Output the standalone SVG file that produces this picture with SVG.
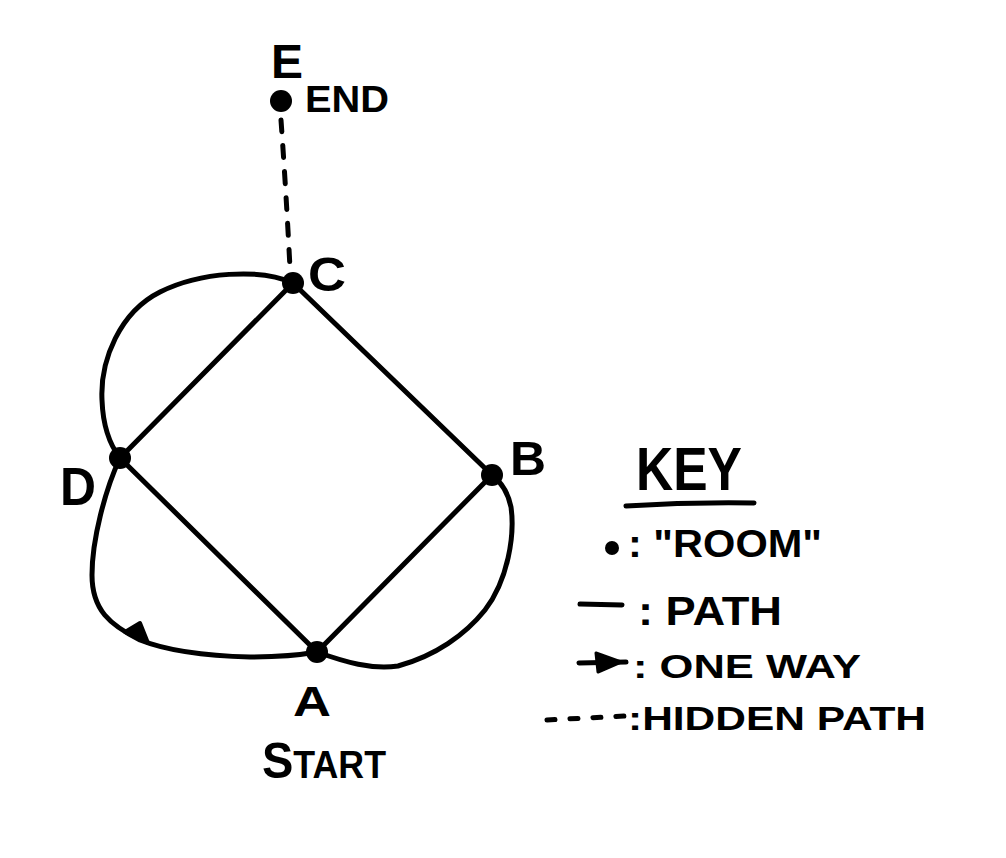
<svg xmlns="http://www.w3.org/2000/svg" width="1006" height="858" viewBox="0 0 1006 858">
<style>
.ln{fill:none;stroke:#000;stroke-width:5;stroke-linecap:round;stroke-linejoin:round}
.dash{fill:none;stroke:#000;stroke-width:5;stroke-linecap:round;stroke-dasharray:12 14}
.dot{fill:#000}
.t{font-family:"Liberation Sans",Arial,sans-serif;font-weight:bold;fill:#000}
</style>
<rect width="1006" height="858" fill="#fff"/>
<g id="connectors">
<path class="dash" d="M281,120 Q286,190 290,268"/>
<path class="ln" d="M293,283 L120,458"/>
<path class="ln" d="M293,283 L492,475"/>
<path class="ln" d="M120,458 L317,652"/>
<path class="ln" d="M492,475 L317,652"/>
<path class="ln" d="M293,283 C260,268 200,272 160,292 C120,312 100,360 102,400 C103,428 110,445 120,458"/>
<path class="ln" d="M120,458 C105,490 92,540 92,575 C92,610 110,625 140,640 C170,652 210,656 250,657 C280,657 300,655 317,652"/>
<path class="ln" d="M317,652 C345,662 372,670 398,666 C435,656 465,635 485,610 C508,580 515,535 511,507 C508,492 501,482 492,475"/>
<polygon points="125,632 140,623 148,643" fill="#000" stroke="#000" stroke-width="4" stroke-linejoin="round"/>
</g>
<g id="node-E">
<circle class="dot" cx="281" cy="101" r="11"/>
<text class="t" x="271" y="78" font-size="48" textLength="32" lengthAdjust="spacingAndGlyphs">E</text>
<text class="t" x="305" y="112" font-size="36" textLength="84" lengthAdjust="spacingAndGlyphs">END</text>
</g>
<g id="node-C">
<circle class="dot" cx="293" cy="283" r="11"/>
<text class="t" x="308" y="291" font-size="48" textLength="38" lengthAdjust="spacingAndGlyphs">C</text>
</g>
<g id="node-D">
<circle class="dot" cx="120" cy="458" r="11"/>
<text class="t" x="60" y="505" font-size="54" textLength="36" lengthAdjust="spacingAndGlyphs">D</text>
</g>
<g id="node-B">
<circle class="dot" cx="492" cy="475" r="11"/>
<text class="t" x="510" y="475" font-size="48" textLength="36" lengthAdjust="spacingAndGlyphs">B</text>
</g>
<g id="node-A">
<circle class="dot" cx="317" cy="652" r="11"/>
<text class="t" x="293" y="716" font-size="42" textLength="38" lengthAdjust="spacingAndGlyphs">A</text>
<text class="t" x="262" y="778" font-size="38" textLength="124" lengthAdjust="spacingAndGlyphs"><tspan font-size="50">S</tspan>TART</text>
</g>
<g id="key">
<text class="t" x="636" y="490" font-size="62" textLength="106" lengthAdjust="spacingAndGlyphs">KEY</text>
<path class="ln" d="M626,506 Q690,502 754,503"/>
<circle class="dot" cx="612" cy="548" r="7"/>
<text class="t" x="628" y="557" font-size="38" textLength="194" lengthAdjust="spacingAndGlyphs">: "ROOM"</text>
<path class="ln" d="M580,604 L622,605"/>
<text class="t" x="638" y="625" font-size="40" textLength="144" lengthAdjust="spacingAndGlyphs">: PATH</text>
<path class="ln" d="M579,663 L626,662"/>
<polygon points="596,653 621,662 598,672" fill="#000" stroke="#000" stroke-width="3" stroke-linejoin="round"/>
<text class="t" x="633" y="678" font-size="34" textLength="228" lengthAdjust="spacingAndGlyphs">: ONE WAY</text>
<path class="ln" d="M547,720 L626,716" stroke-dasharray="8 15"/>
<text class="t" x="628" y="730" font-size="34" textLength="298" lengthAdjust="spacingAndGlyphs">:HIDDEN PATH</text>
</g>
</svg>
